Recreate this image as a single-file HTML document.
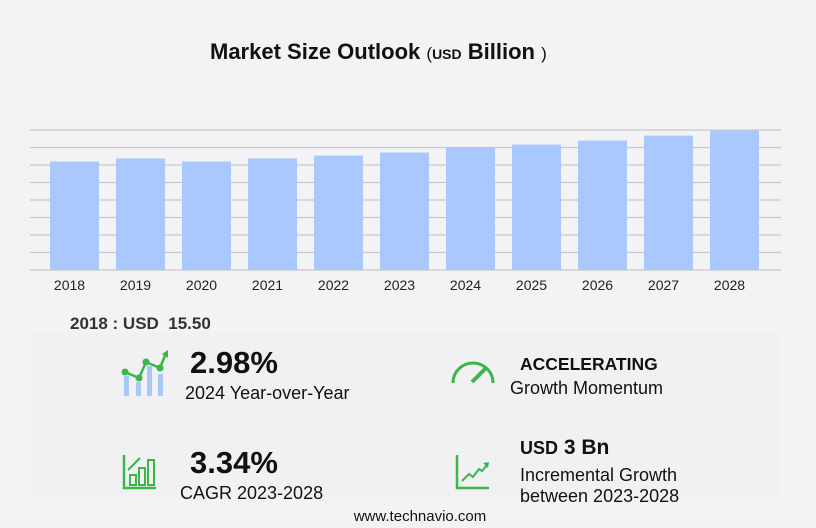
<!DOCTYPE html>
<html><head><meta charset="utf-8"><style>
body{margin:0;width:816px;height:528px;background:#f3f3f5;font-family:"Liberation Sans","DejaVu Sans",sans-serif;position:relative;overflow:hidden;color:#111}
.t{position:absolute;white-space:nowrap}
</style></head><body>
<div class="t" style="left:210px;top:39px;font-size:22px;font-weight:bold">Market Size Outlook <span style="font-weight:normal;font-size:17px">(</span><span style="font-size:14px">USD</span> Billion <span style="font-weight:normal;font-size:17px">)</span></div>
<svg id="chart" width="816" height="300" style="position:absolute;left:0;top:0"></svg>
<div class="t" style="left:70px;top:314px;font-size:17px;font-weight:bold;color:#333">2018 : USD&nbsp; 15.50</div>
<div style="position:absolute;left:30px;top:332px;width:750px;height:165px;background:#f1f1f3"></div>
<svg style="position:absolute;left:118px;top:350px" width="54" height="48">
<rect x="6" y="26" width="5" height="20" fill="#a8c8fa"/><rect x="18" y="32" width="5" height="14" fill="#a8c8fa"/><rect x="29" y="16" width="5" height="30" fill="#a8c8fa"/><rect x="40" y="24" width="5" height="22" fill="#a8c8fa"/>
<polyline points="7,22 21,28 28,12 42,18 48,3" fill="none" stroke="#3cb54a" stroke-width="2.5"/>
<circle cx="7" cy="22" r="3.5" fill="#3cb54a"/><circle cx="21" cy="28" r="3.5" fill="#3cb54a"/><circle cx="28" cy="12" r="3.5" fill="#3cb54a"/><circle cx="42" cy="18" r="3.5" fill="#3cb54a"/><polygon points="44,4 50,0 50,8" fill="#3cb54a"/></svg>
<div class="t" style="left:190px;top:345px;font-size:31px;font-weight:bold">2.98%</div>
<div class="t" style="left:185px;top:383px;font-size:18px">2024 Year-over-Year</div>
<svg style="position:absolute;left:450px;top:358px" width="46" height="28">
<path d="M3,25 A20,20 0 0 1 43,25" fill="none" stroke="#3cb54a" stroke-width="3"/>
<line x1="22" y1="24" x2="36" y2="10" stroke="#3cb54a" stroke-width="4"/></svg>
<div class="t" style="left:520px;top:354px;font-size:17.5px;font-weight:bold">ACCELERATING</div>
<div class="t" style="left:510px;top:378px;font-size:18px">Growth Momentum</div>
<svg style="position:absolute;left:122px;top:455px" width="36" height="36">
<path d="M2,0 V33 H34" fill="none" stroke="#3cb54a" stroke-width="2.5"/>
<rect x="8" y="20" width="6" height="10" fill="none" stroke="#3cb54a" stroke-width="2"/><rect x="17" y="13" width="6" height="17" fill="none" stroke="#3cb54a" stroke-width="2"/><rect x="26" y="5" width="6" height="25" fill="none" stroke="#3cb54a" stroke-width="2"/>
<line x1="6" y1="15" x2="18" y2="3" stroke="#3cb54a" stroke-width="2"/></svg>
<div class="t" style="left:190px;top:445px;font-size:31px;font-weight:bold">3.34%</div>
<div class="t" style="left:180px;top:483px;font-size:18px">CAGR 2023-2028</div>
<svg style="position:absolute;left:455px;top:455px" width="36" height="36">
<path d="M2,0 V33 H34" fill="none" stroke="#3cb54a" stroke-width="2.5"/>
<polyline points="7,26 14,19 18,22 24,14 27,16 32,10" fill="none" stroke="#3cb54a" stroke-width="2"/><polygon points="28,8 34,7 33,13" fill="#3cb54a"/></svg>
<div class="t" style="left:520px;top:436px;font-size:21px;font-weight:bold"><span style="font-size:18px">USD</span> 3 Bn</div>
<div class="t" style="left:520px;top:465px;font-size:18px;line-height:21px">Incremental Growth<br>between 2023-2028</div>
<div class="t" style="left:0;width:840px;text-align:center;top:508px;font-size:15px">www.technavio.com</div>
<script>
const categories=["2018","2019","2020","2021","2022","2023","2024","2025","2026","2027","2028"];
const values=[15.5,15.93,15.5,15.93,16.35,16.78,17.49,17.92,18.49,19.2,19.91];
const gridTicks=[0,2.5,5,7.5,10,12.5,15,17.5,20];
const svg=document.getElementById('chart');const NS='http://www.w3.org/2000/svg';
const y0=270,yTop=130,yMax=20,xL=30,xR=781;
const y=v=>y0-(v/yMax)*(y0-yTop);
const pitch=66,bw=49,x=i=>50+i*pitch;
gridTicks.forEach(t=>{const l=document.createElementNS(NS,'line');


l.setAttribute('x1',xL);l.setAttribute('x2',xR);l.setAttribute('y1',y(t));l.setAttribute('y2',y(t));l.setAttribute('stroke','#c8c8cc');l.setAttribute('stroke-width','1.2');svg.appendChild(l);});
values.forEach((v,i)=>{const r=document.createElementNS(NS,'rect');


r.setAttribute('x',x(i));r.setAttribute('width',bw);r.setAttribute('y',y(v));r.setAttribute('height',y0-y(v));r.setAttribute('fill','#a8c8fe');svg.appendChild(r);
const t=document.createElementNS(NS,'text');


t.setAttribute('x',x(i)+bw/2-5);t.setAttribute('y',290);t.setAttribute('text-anchor','middle');t.setAttribute('font-size','14');t.setAttribute('fill','#222');t.textContent=categories[i];svg.appendChild(t);});
</script>
</body></html>
